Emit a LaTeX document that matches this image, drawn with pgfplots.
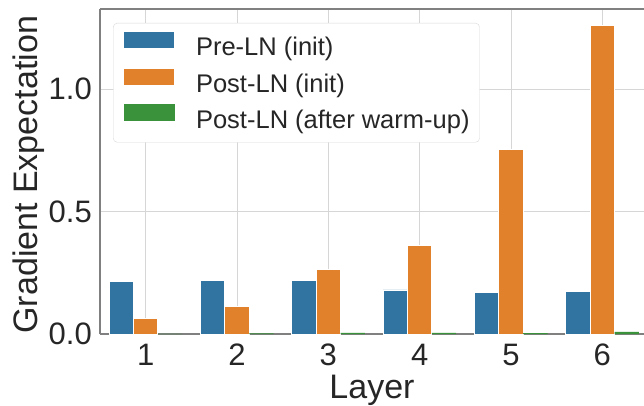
\documentclass[border=0pt]{standalone}
\usepackage{fontspec}
\setmainfont{Liberation Sans}
\usepackage{pgfplots}
\pgfplotsset{compat=1.18}
\definecolor{cblue}{HTML}{3274A1}
\definecolor{corange}{HTML}{E1812C}
\definecolor{cgreen}{HTML}{3A923A}
\definecolor{cgrid}{HTML}{D6D6D6}
\definecolor{cspine}{HTML}{808080}
\definecolor{ctext}{HTML}{262626}

\pgfplotsset{
  sbar/.style={fill=#1, draw=white, line width=0.8pt,
    legend image code/.code={\fill[fill=#1, sharp corners] (0pt,0.6pt) rectangle (51pt,17.6pt);}},
}

\begin{document}
\begin{tikzpicture}
\begin{axis}[
  scale only axis,
  width=544pt, height=325pt,
  xmin=-0.5, xmax=5.456,
  ymin=0, ymax=1.327,
  ybar, bar width=0.2667,
  axis x line*=box, axis y line*=left,
  axis line style={cspine, line width=1.2pt},
  major tick length=0pt,
  xtick={0,1,2,3,4,5},
  xticklabels={1,2,3,4,5,6},
  ytick={0,0.5,1.0},
  /pgf/number format/fixed,
  /pgf/number format/fixed zerofill,
  /pgf/number format/precision=1,
  /pgf/number format/assume math mode=true,
  grid=major,
  major grid style={cgrid, line width=1pt},
  tick label style={font=\fontsize{31}{37}\selectfont, text=ctext},
  yticklabel style={inner sep=0pt, xshift=-8pt, anchor=east},
  xticklabel style={inner sep=0pt, yshift=-10pt, anchor=north},
  xlabel={Layer},
  ylabel={Gradient Expectation},
  label style={font=\fontsize{34}{40}\selectfont, text=ctext},
  xlabel style={at={(axis description cs:0.5,-0.197)}, anchor=base, inner sep=0pt},
  ylabel style={at={(axis description cs:-0.114,0.49)}, anchor=base, inner sep=0pt},
  legend style={at={(axis description cs:0.024,0.957)}, anchor=north west,
    draw=gray!30, rounded corners=4pt, fill=white,
    font=\fontsize{25.5}{30}\selectfont, text=ctext,
    inner xsep=10pt, inner ysep=8pt, row sep=6pt,
    nodes={inner sep=0pt, text height=19pt, text depth=6pt},
    /tikz/every odd column/.append style={column sep=21pt}},
  legend cell align=left,
]
\addplot[sbar=cblue, bar shift=-0.2667]
  coordinates {(0,0.216)(1,0.220)(2,0.219)(3,0.180)(4,0.171)(5,0.175)};
\addplot[sbar=corange, bar shift=0]
  coordinates {(0,0.064)(1,0.114)(2,0.262)(3,0.360)(4,0.755)(5,1.261)};
\addplot[sbar=cgreen, draw=none, bar shift=0.2667]
  coordinates {(0,0.001)(1,0.003)(2,0.005)(3,0.005)(4,0.004)(5,0.009)};
\legend{Pre-LN (init), Post-LN (init), Post-LN (after warm-up)}
\end{axis}
\pgfresetboundingbox
\path ([xshift=-100pt,yshift=-71pt]current axis.south west) rectangle ([yshift=9pt]current axis.north east);
\end{tikzpicture}
\end{document}
